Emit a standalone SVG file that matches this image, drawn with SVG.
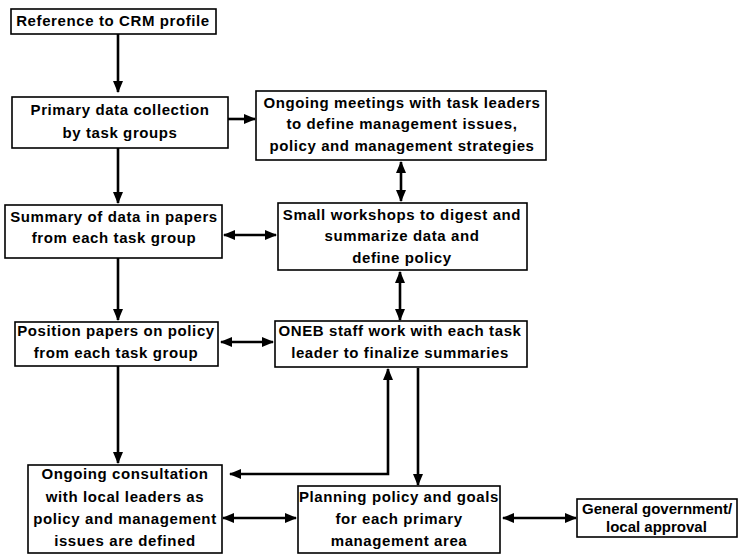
<svg xmlns="http://www.w3.org/2000/svg" width="739" height="554" viewBox="0 0 739 554">
  <style>
    .box { fill: #ffffff; stroke: #000000; stroke-width: 1.6; }
    .lbl { font-family: "Liberation Sans", Arial, sans-serif; font-weight: bold; font-size: 15px; letter-spacing: 0.6px; fill: #000000; text-anchor: middle; }
    .lft { text-anchor: start; letter-spacing: 0px; }
    .conn { fill: none; stroke: #000000; stroke-width: 2.6; }
  </style>
  <defs>
    <marker id="head" markerUnits="userSpaceOnUse" viewBox="0 0 12 10" refX="11" refY="5" markerWidth="12" markerHeight="10" orient="auto-start-reverse">
      <path d="M0,0 L12,5 L0,10 Z" fill="#000000"/>
    </marker>
  </defs>
  <rect width="739" height="554" fill="#ffffff"/>

  <g id="connectors">
    <line class="conn" x1="118" y1="34" x2="118" y2="92" marker-end="url(#head)"/>
    <line class="conn" x1="228" y1="119" x2="255" y2="119" marker-end="url(#head)"/>
    <line class="conn" x1="401" y1="162" x2="401" y2="201" marker-start="url(#head)" marker-end="url(#head)"/>
    <line class="conn" x1="118" y1="148" x2="118" y2="203" marker-end="url(#head)"/>
    <line class="conn" x1="224" y1="235" x2="276" y2="235" marker-start="url(#head)" marker-end="url(#head)"/>
    <line class="conn" x1="400" y1="272" x2="400" y2="320" marker-start="url(#head)" marker-end="url(#head)"/>
    <line class="conn" x1="118" y1="258" x2="118" y2="320" marker-end="url(#head)"/>
    <line class="conn" x1="221" y1="342" x2="273" y2="342" marker-start="url(#head)" marker-end="url(#head)"/>
    <line class="conn" x1="118" y1="366" x2="118" y2="463" marker-end="url(#head)"/>
    <polyline class="conn" points="388,369 388,474 230,474" marker-start="url(#head)" marker-end="url(#head)"/>
    <line class="conn" x1="418" y1="368" x2="418" y2="485" marker-end="url(#head)"/>
    <line class="conn" x1="223" y1="518" x2="296" y2="518" marker-start="url(#head)" marker-end="url(#head)"/>
    <line class="conn" x1="503" y1="518" x2="576" y2="518" marker-start="url(#head)" marker-end="url(#head)"/>
  </g>

  <g id="crm-profile">
    <rect class="box" x="11" y="9" width="205" height="25"/>
    <text class="lbl" x="113" y="26">Reference to CRM profile</text>
  </g>

  <g id="primary-data">
    <rect class="box" x="12" y="97" width="216" height="51"/>
    <text class="lbl" x="120" y="115">Primary data collection</text>
    <text class="lbl" x="120" y="138">by task groups</text>
  </g>

  <g id="ongoing-meetings">
    <rect class="box" x="256" y="91" width="290" height="69"/>
    <text class="lbl" x="402" y="108">Ongoing meetings with task leaders</text>
    <text class="lbl" x="402" y="129">to define management issues,</text>
    <text class="lbl" x="402" y="151">policy and management strategies</text>
  </g>

  <g id="summary-data">
    <rect class="box" x="5" y="205" width="217" height="53"/>
    <text class="lbl" x="114" y="222">Summary of data in papers</text>
    <text class="lbl" x="114" y="243">from each task group</text>
  </g>

  <g id="small-workshops">
    <rect class="box" x="278" y="203" width="249" height="67"/>
    <text class="lbl" x="402" y="220">Small workshops to digest and</text>
    <text class="lbl" x="402" y="241">summarize data and</text>
    <text class="lbl" x="402" y="263">define policy</text>
  </g>

  <g id="position-papers">
    <rect class="box" x="15" y="322" width="203" height="44"/>
    <text class="lbl" x="116" y="336">Position papers on policy</text>
    <text class="lbl" x="116" y="358">from each task group</text>
  </g>

  <g id="oneb-staff">
    <rect class="box" x="275" y="321" width="252" height="46"/>
    <text class="lbl" x="400" y="336">ONEB staff work with each task</text>
    <text class="lbl" x="400" y="358">leader to finalize summaries</text>
  </g>

  <g id="local-consultation">
    <rect class="box" x="28" y="465" width="194" height="88"/>
    <text class="lbl" x="125" y="479">Ongoing consultation</text>
    <text class="lbl" x="125" y="502">with local leaders as</text>
    <text class="lbl" x="125" y="524">policy and management</text>
    <text class="lbl" x="125" y="546">issues are defined</text>
  </g>

  <g id="planning-policy">
    <rect class="box" x="298" y="486" width="202" height="67"/>
    <text class="lbl" x="399" y="502">Planning policy and goals</text>
    <text class="lbl" x="399" y="524">for each primary</text>
    <text class="lbl" x="399" y="546">management area</text>
  </g>

  <g id="government-approval">
    <rect class="box" x="577" y="499" width="160" height="38"/>
    <text class="lbl lft" x="582" y="514">General government/</text>
    <text class="lbl lft" x="606" y="532">local approval</text>
  </g>
</svg>
